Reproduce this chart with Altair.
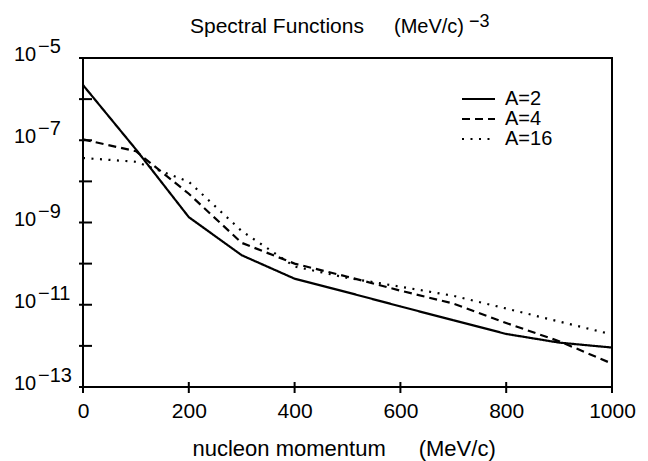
import altair as alt
import pandas as pd

# ---- data ----
momentum = [0, 100, 200, 300, 400, 500, 600, 700, 800, 900, 1000]
a2 = [2.2e-6, 6.0e-8, 1.35e-9, 1.6e-10, 4.3e-11, 2.0e-11, 9.1e-12, 4.2e-12, 1.95e-12, 1.2e-12, 9.1e-13]
a4 = [1.05e-7, 5.4e-8, 5.0e-9, 3.2e-10, 1.0e-10, 4.8e-11, 2.2e-11, 1.07e-11, 3.6e-12, 1.3e-12, 3.7e-13]
a16 = [3.7e-8, 3.0e-8, 9.8e-9, 6.2e-10, 8.5e-11, 4.5e-11, 2.75e-11, 1.65e-11, 8.1e-12, 3.9e-12, 1.9e-12]
series = ["A=2", "A=4", "A=16"]
x_ticks = [0, 200, 400, 600, 800, 1000]
y_ticks = [1e-13, 1e-12, 1e-11, 1e-10, 1e-9, 1e-8, 1e-7, 1e-6, 1e-5]
y_label_vals = [1e-5, 1e-7, 1e-9, 1e-11, 1e-13]
y_label_exps = ["\u22125", "\u22127", "\u22129", "\u221211", "\u221213"]

FONT = "Liberation Sans"
W, H = 529, 329
dashes = [[1, 0], [8, 5], [2, 6.5]]

rows = []
for name, vals in zip(series, [a2, a4, a16]):
    for m, v in zip(momentum, vals):
        rows.append({"x": m, "y": v, "series": name})
df = pd.DataFrame(rows)

xs = alt.Scale(domain=[0, 1000], nice=False, zero=False)
ys = alt.Scale(type="log", domain=[1e-13, 1e-5], nice=False)
dash_scale = alt.Scale(domain=series, range=dashes)

xaxis = alt.Axis(
    values=x_ticks, ticks=False, domain=False, grid=False, format="d",
    labelFontSize=21, labelFont=FONT, labelColor="black", labelPadding=13,
    labelFlush=False, labelOverlap=False,
    title="nucleon momentum\u2003\u2002(MeV/c)", titleFontSize=22, titleFont=FONT,
    titleFontWeight="normal", titleColor="black", titleX=109, titleY=68,
    titleAlign="left", titleBaseline="alphabetic",
)

lines = alt.Chart(df).mark_line(color="black", strokeWidth=2.2, clip=True).encode(
    x=alt.X("x:Q", scale=xs, axis=xaxis),
    y=alt.Y("y:Q", scale=ys, axis=None),
    strokeDash=alt.StrokeDash("series:N", scale=dash_scale, legend=None),
)

xt = alt.Chart(pd.DataFrame({"x": x_ticks})).mark_rule(color="black", strokeWidth=2).encode(
    x=alt.X("x:Q", scale=xs, axis=xaxis),
    y=alt.value(H - 5), y2=alt.value(H + 6),
)

yt = alt.Chart(pd.DataFrame({"y": y_ticks})).mark_rule(color="black", strokeWidth=2).encode(
    y=alt.Y("y:Q", scale=ys, axis=None),
    x=alt.value(-4), x2=alt.value(9),
)

ylab_df = pd.DataFrame({"y": y_label_vals, "exp": y_label_exps})
ybase = alt.Chart(ylab_df).mark_text(
    text="10", font=FONT, fontSize=20, align="left", baseline="alphabetic", dy=3, color="black"
).encode(y=alt.Y("y:Q", scale=ys, axis=None), x=alt.value(-69))
yexp = alt.Chart(ylab_df).mark_text(
    font=FONT, fontSize=20, align="left", baseline="alphabetic", dy=-5, color="black"
).encode(y=alt.Y("y:Q", scale=ys, axis=None), x=alt.value(-45), text="exp:N")

dummy = pd.DataFrame({"d": [0]})
title_layers = [
    alt.Chart(dummy).mark_text(text="Spectral Functions", font=FONT, fontSize=21, align="left",
                               baseline="alphabetic", color="black").encode(x=alt.value(107), y=alt.value(-25)),
    alt.Chart(dummy).mark_text(text="(MeV/c)", font=FONT, fontSize=20, align="left",
                               baseline="alphabetic", color="black").encode(x=alt.value(311), y=alt.value(-25)),
    alt.Chart(dummy).mark_text(text="\u22123", font=FONT, fontSize=18, align="left",
                               baseline="alphabetic", color="black").encode(x=alt.value(386), y=alt.value(-31)),
]

legend_layers = []
for i, name in enumerate(series):
    ly = 41 + 20 * i
    legend_layers.append(
        alt.Chart(dummy).mark_rule(color="black", strokeWidth=2, strokeDash=dashes[i]).encode(
            x=alt.value(379), x2=alt.value(412), y=alt.value(ly))
    )
    legend_layers.append(
        alt.Chart(dummy).mark_text(text=name, font=FONT, fontSize=20, align="left",
                                   baseline="middle", color="black").encode(x=alt.value(422), y=alt.value(ly))
    )

chart = alt.layer(lines, xt, yt, ybase, yexp, *title_layers, *legend_layers).properties(
    width=W, height=H,
    autosize=alt.AutoSizeParams(type="none"),
    padding={"left": 83, "top": 58, "right": 36, "bottom": 74},
    background="white",
).configure_view(stroke="black", strokeWidth=2)

chart.save("out.html", embed_options={"renderer": "svg", "actions": False})
